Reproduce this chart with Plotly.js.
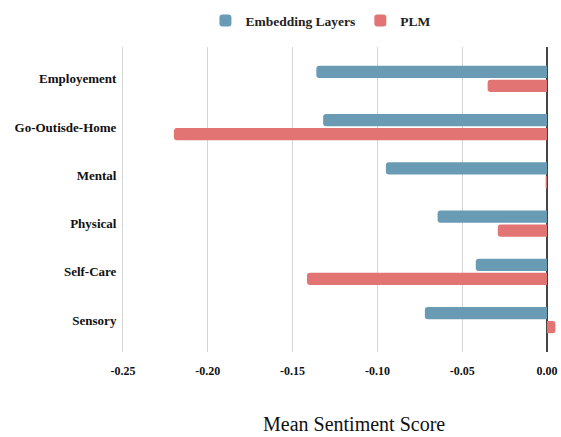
<!DOCTYPE html>
<html><head><meta charset="utf-8">
<script src="https://cdn.plot.ly/plotly-3.0.1.min.js"></script>
<style>html,body{margin:0;padding:0;background:#fff;}#chart{width:561px;height:437px;}</style>
</head><body><div id="chart"></div>
<script>
var categories = ["Employement", "Go-Outisde-Home", "Mental", "Physical", "Self-Care", "Sensory"];
var embeddingLayers = [-0.136, -0.132, -0.095, -0.0645, -0.042, -0.072];
var plm = [-0.035, -0.220, -0.0008, -0.029, -0.1415, 0.005];
var tickValues = [-0.25, -0.20, -0.15, -0.10, -0.05, 0.00];
var tickLabels = ["-0.25", "-0.20", "-0.15", "-0.10", "-0.05", "0.00"];

var serif = "Liberation Serif";
var traces = [
  {type: "bar", orientation: "h", name: "Embedding Layers", y: categories, x: embeddingLayers,
   marker: {color: "#6A9BB5"}},
  {type: "bar", orientation: "h", name: "PLM", y: categories, x: plm,
   marker: {color: "#E27474"}}
];
var layout = {
  width: 561, height: 437,
  margin: {l: 123, r: 3, t: 47, b: 85},
  paper_bgcolor: "#fff", plot_bgcolor: "#fff",
  barmode: "group", bargap: 0.42, bargroupgap: 0.12, barcornerradius: 3,
  showlegend: true,
  legend: {orientation: "h", x: 0.455, xanchor: "center", y: 1.035, yanchor: "bottom",
           font: {family: serif, size: 13.5, color: "#222", weight: 700}, itemwidth: 30},
  xaxis: {range: [-0.25, 0.0065], tickvals: tickValues, ticktext: tickLabels,
          showgrid: true, gridcolor: "#d6d6d6", gridwidth: 1,
          zeroline: true, zerolinecolor: "#444", zerolinewidth: 1.5,
          showline: false, ticks: "", ticklabelstandoff: 10,
          tickfont: {family: serif, size: 12, color: "#111", weight: 700}},
  yaxis: {type: "category", range: [5.66, -0.66], showgrid: false, zeroline: false,
          showline: true, linecolor: "#d6d6d6", linewidth: 1, ticks: "",
          ticklabelstandoff: 3,
          tickfont: {family: serif, size: 13, color: "#111", weight: 700}},
  annotations: [{text: "Mean Sentiment Score", xref: "paper", yref: "paper",
                 x: 0.53, y: -0.237, xanchor: "center", yanchor: "middle", showarrow: false,
                 font: {family: serif, size: 20, color: "#111"}}]
};
Plotly.newPlot("chart", traces, layout, {displayModeBar: false, staticPlot: true});
</script></body></html>
